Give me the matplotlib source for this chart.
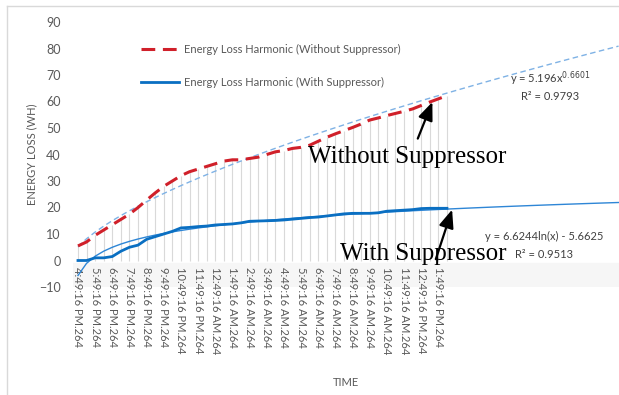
import numpy as np
import matplotlib
matplotlib.use('Agg')
import matplotlib.pyplot as plt
from matplotlib.lines import Line2D

# energy loss (WH), one value every half hour
without_supp = [5.5, 7.0, 9.5, 11.5, 13.5, 15.5, 17.5, 20.0, 22.8, 25.5,
                28.0, 30.0, 32.0, 33.5, 34.5, 35.5, 36.5, 37.5, 38.0, 38.0,
                38.5, 39.0, 40.0, 41.0, 41.5, 42.3, 42.7, 43.5, 45.0, 46.5,
                47.8, 49.0, 50.2, 51.5, 53.0, 53.8, 54.7, 55.5, 56.3, 57.2,
                58.5, 59.8, 61.0, 62.2]
with_supp = [0.0, 0.0, 1.0, 1.0, 1.5, 3.5, 5.0, 5.8, 8.0, 9.0,
             10.0, 11.0, 12.3, 12.5, 12.8, 13.0, 13.4, 13.6, 13.8, 14.2,
             14.8, 14.9, 15.0, 15.1, 15.3, 15.6, 15.9, 16.2, 16.4, 16.8,
             17.2, 17.6, 17.8, 17.8, 17.8, 18.0, 18.6, 18.8, 19.0, 19.2,
             19.6, 19.7, 19.7, 19.7]
time_labels = ['4:49:16 PM.264', '5:49:16 PM.264', '6:49:16 PM.264', '7:49:16 PM.264',
               '8:49:16 PM.264', '9:49:16 PM.264', '10:49:16 PM.264', '11:49:16 PM.264',
               '12:49:16 AM.264', '1:49:16 AM.264', '2:49:16 AM.264', '3:49:16 AM.264',
               '4:49:16 AM.264', '5:49:16 AM.264', '6:49:16 AM.264', '7:49:16 AM.264',
               '8:49:16 AM.264', '9:49:16 AM.264', '10:49:16 AM.264', '11:49:16 AM.264',
               '12:49:16 PM.264', '1:49:16 PM.264']

# fitted trendlines (Excel), forecast forward
pow_a, pow_b = 5.196, 0.6601
log_a, log_b = 6.6244, -5.6625
n_forecast = 64

plt.rcParams['font.family'] = ['Lato', 'DejaVu Sans']
grey = '#595959'

fig = plt.figure(figsize=(6.19, 3.95), dpi=100)
ax = fig.add_axes([73 / 619, 108 / 395, 546 / 619, 265 / 395])

x = np.arange(len(without_supp))
xt = np.arange(n_forecast)

ax.axhspan(-10, -1, color='#f6f6f6', zorder=0)
ax.vlines(x, 0, without_supp, color='#d9d9d9', lw=0.8, zorder=1)

ax.plot(xt, log_a * np.log(xt + 1) + log_b, color='#2e86d6', lw=1.0, zorder=2)
ax.plot(xt, pow_a * (xt + 1) ** pow_b, color='#7fb2e5', lw=1.0, ls=(0, (4, 2.5)), zorder=2)
ax.plot(x, without_supp, color='#d0202a', lw=2.2, ls=(0, (4.5, 2.5)), zorder=3)
ax.plot(x, with_supp, color='#0a6fc2', lw=2.0, zorder=3)

ax.set_xlim(-0.58, 63.05)
ax.set_ylim(-10, 90)
ax.set_yticks(range(-10, 91, 10))
ax.set_xticks(x[::2])
ax.set_xticklabels(time_labels, rotation=-90, va='top', ha='center')
for s in ax.spines.values():
    s.set_visible(False)
ax.tick_params(axis='y', length=0, pad=9, labelsize=9, labelcolor=grey)
ax.tick_params(axis='x', length=0, pad=5, labelsize=8, labelcolor=grey)
# category axis crosses at 0
for lab in ax.get_xticklabels():
    lab.set_y(0.1)

ax.set_ylabel('ENERGY LOSS (WH)', fontsize=8, color=grey, labelpad=1)
fig.text(346 / 619, 12 / 395, 'TIME', fontsize=8, color=grey, ha='center', va='center')

handles = [Line2D([], [], color='#d0202a', lw=2.2, ls=(0, (4.5, 2.5))),
           Line2D([], [], color='#0a6fc2', lw=2.0)]
ax.legend(handles, ['Energy Loss Harmonic (Without Suppressor)',
                    'Energy Loss Harmonic (With Suppressor)'],
          loc='upper left', bbox_to_anchor=(0.115, 0.94), frameon=False,
          fontsize=8, labelcolor=grey, handlelength=3.4, handletextpad=0.4,
          labelspacing=2.0, borderpad=0)

eq_col = '#404040'
ax.text(55.0, 68.5, r'y = 5.196x$^{0.6601}$', fontsize=8, color=eq_col, ha='center', va='center')
ax.text(55.0, 62.0, 'R² = 0.9793', fontsize=8, color=eq_col, ha='center', va='center')
ax.text(54.3, 8.9, 'y = 6.6244ln(x) - 5.6625', fontsize=8, color=eq_col, ha='center', va='center')
ax.text(54.3, 2.1, 'R² = 0.9513', fontsize=8, color=eq_col, ha='center', va='center')

serif = ['Liberation Serif', 'DejaVu Serif']
ax.text(26.8, 39.0, 'Without Suppressor', family=serif, fontsize=18, ha='left', va='center')
ax.text(30.5, 2.5, 'With Suppressor', family=serif, fontsize=18, ha='left', va='center')
arrow = dict(arrowstyle='-|>,head_length=1.1,head_width=0.45', color='black', lw=1.6,
             shrinkA=0, shrinkB=0)
ax.annotate('', xy=(41.3, 59.8), xytext=(39.6, 46.0), arrowprops=arrow)
ax.annotate('', xy=(43.6, 19.2), xytext=(41.7, 0.5), arrowprops=arrow)

# chart border
fig.add_artist(Line2D([7 / 619, 7 / 619], [0, 1 - 6 / 395], color='#d9d9d9', lw=1))
fig.add_artist(Line2D([7 / 619, 1], [1 - 6 / 395, 1 - 6 / 395], color='#d9d9d9', lw=1))

fig.savefig('out.png', dpi=100)
